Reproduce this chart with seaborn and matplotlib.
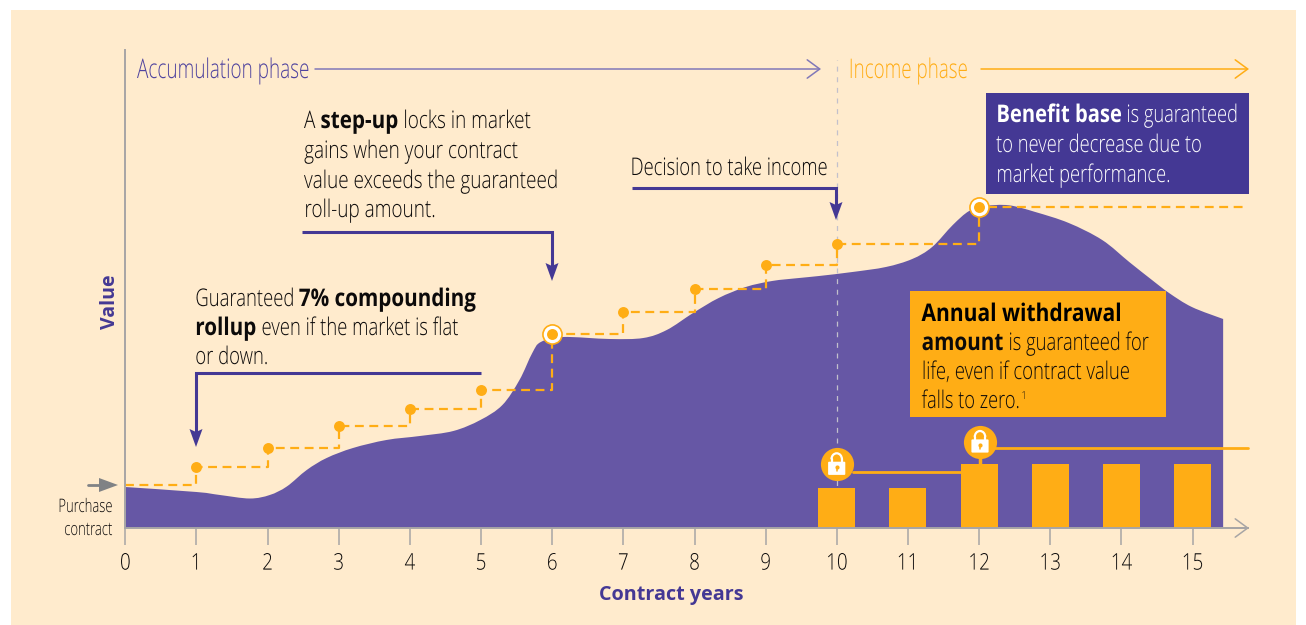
import matplotlib
matplotlib.use("Agg")
import matplotlib.pyplot as plt
from matplotlib.patches import Rectangle, Arc, FancyBboxPatch, PathPatch
from matplotlib.path import Path
from matplotlib.patheffects import AbstractPathEffect
from matplotlib.transforms import Affine2D
import seaborn as sns

# values, height = pixels above the baseline
curve_years = [0, 1, 1.33, 1.75, 2.03, 2.27, 2.55, 2.83, 3.2, 3.67, 4.14, 4.61, 4.99, 5.3, 5.54, 5.72, 5.84,
               6.15, 6.81, 7.28, 7.61, 7.98, 8.34, 8.72, 9.09, 9.47, 9.75, 10.22, 10.69, 11.06, 11.34, 11.63,
               11.86, 12.09, 12.42, 12.79, 13.26, 13.73, 14.11, 14.43, 14.67, 14.99, 15.43]
curve_value = [41, 36, 33, 29.5, 33, 41.5, 58, 70, 80, 88, 92, 97, 108, 123, 148, 175, 186,
               191, 189, 190, 198, 215, 230, 241, 247, 250, 252, 256, 261, 269, 281, 303,
               317, 322, 322.7, 316, 305, 288, 266, 248, 235, 221, 209]
step_years = [0, 1, 2, 3, 4, 5, 6, 7, 8, 9, 10, 12, 15.78]
step_value = [43, 61, 80.3, 102, 119, 138, 194.5, 216.3, 238.7, 262.7, 284, 320.7, 320.7]
dot_years = [1, 2, 3, 4, 5, 6, 7, 8, 9, 10, 12]
dot_value = [61, 80.3, 102, 119, 138, 194.5, 216.3, 238.7, 262.7, 284, 320.7]
stepup_years = [6, 12]
stepup_value = [194.5, 320.7]
bar_years = [10, 11, 12, 13, 14, 15]
bar_value = [40, 40, 64, 64, 64, 64]
tick_years = list(range(16))

CREAM = "#FFEBCD"
PURPLE = "#6657A5"
DARK = "#443894"
ORANGE = "#FFAD15"
GREY = "#A7A5A5"
INK = "#0C0A0A"

sns.set_theme(style="ticks")
plt.rcParams["font.family"] = ["Open Sans", "DejaVu Sans"]

W, H = 1306, 625


class Squeeze(AbstractPathEffect):
    # the original type is a condensed cut, so narrow the glyphs around a pivot
    def __init__(self, sx, pivot=0.0):
        super().__init__()
        self.sx = sx
        self.pivot = pivot

    def draw_path(self, renderer, gc, tpath, affine, rgbFace=None):
        box = tpath.get_extents(affine)
        px = box.x0 + box.width * self.pivot
        tr = affine + Affine2D().translate(-px, 0).scale(self.sx, 1).translate(px, 0)
        renderer.draw_path(gc, tpath, tr, rgbFace)


def smooth_area(xs, ys):
    # closed outline under the read points, bezier segments passing through each of them
    verts = [(xs[0], 0), (xs[0], ys[0])]
    codes = [Path.MOVETO, Path.LINETO]
    n = len(xs)
    for i in range(n - 1):
        a, b = max(i - 1, 0), min(i + 2, n - 1)
        verts += [(xs[i] + (xs[i + 1] - xs[a]) / 6, ys[i] + (ys[i + 1] - ys[a]) / 6),
                  (xs[i + 1] - (xs[b] - xs[i]) / 6, ys[i + 1] - (ys[b] - ys[i]) / 6),
                  (xs[i + 1], ys[i + 1])]
        codes += [Path.CURVE4] * 3
    verts += [(xs[-1], 0), (xs[0], 0)]
    codes += [Path.LINETO, Path.CLOSEPOLY]
    return Path(verts, codes)


fig = plt.figure(figsize=(W / 100, H / 100), dpi=100, facecolor="white")
fig.add_artist(Rectangle((11 / W, 0), 1285 / W, 615 / H, transform=fig.transFigure, color=CREAM, lw=0, zorder=-1))

ax = fig.add_axes([125.3 / W, (H - 528) / H, 1122.7 / W, 478 / H])
ax.patch.set_alpha(0)

ax.add_patch(PathPatch(smooth_area(curve_years, curve_value), color=PURPLE, lw=0, zorder=1))
ax.axvline(10, 0, 0.98, color="#C2C0CC", lw=0.9, ls=(0, (4, 4.5)), zorder=2)
sns.barplot(x=bar_years, y=bar_value, native_scale=True, width=0.52, color=ORANGE, saturation=1,
            linewidth=0, ax=ax, zorder=3)
sns.lineplot(x=step_years, y=step_value, color=ORANGE, lw=1.6, ls=(0, (4, 2.5)), drawstyle="steps-post",
             estimator=None, ax=ax, zorder=4)
sns.scatterplot(x=stepup_years, y=stepup_value, s=190, color="white", edgecolor=ORANGE, linewidth=1.2,
                ax=ax, zorder=5, clip_on=False)
sns.scatterplot(x=dot_years, y=dot_value, s=62, color=ORANGE, linewidth=0, ax=ax, zorder=6, clip_on=False)

ax.set_xlim(0, 1122.7 / 71.15)
ax.set_ylim(0, 478)
ax.set_xticks(tick_years)
ax.set_xticklabels([str(t) for t in tick_years], fontsize=16.5, color=INK, fontweight="light")
for lab in ax.get_xticklabels():
    lab.set_path_effects([Squeeze(0.82, 0.5)])
ax.set_yticks([])
ax.tick_params(axis="x", length=12, width=1.1, color=GREY, pad=5)
for s in ["top", "right"]:
    ax.spines[s].set_visible(False)
for s in ["left", "bottom"]:
    ax.spines[s].set_color(GREY)
    ax.spines[s].set_linewidth(1.4)
    ax.spines[s].set_zorder(7)
ax.set_xlabel("Contract years", fontweight="bold", fontsize=14.2, color=DARK)
ax.xaxis.set_label_coords(0.486, -0.119)
ax.set_ylabel("Value", fontweight="bold", fontsize=14, color=DARK)
ax.yaxis.set_label_coords(-0.005, 0.473)

# overlay in picture pixels for the call-outs
ov = fig.add_axes([0, 0, 1, 1], zorder=10)
ov.set_xlim(0, W)
ov.set_ylim(H, 0)
ov.axis("off")
rend = fig.canvas.get_renderer()


def rich(x, y, parts, size=17.5, color=INK, reg=0.78, bold_sx=0.85):
    # parts is a list of (text, bold), written one after the other on a baseline
    for txt, bold in parts:
        sx = bold_sx if bold else reg
        t = ov.text(x, y, txt, fontsize=size, color=color, va="baseline", zorder=20,
                    fontweight="bold" if bold else "light", path_effects=[Squeeze(sx)])
        x += t.get_window_extent(rend).width * sx + 5
    return x


def elbow(xs, ys, tipx, tipy):
    ov.plot(xs, ys, color=DARK, lw=2.2, solid_joinstyle="miter", solid_capstyle="butt", zorder=12)
    ov.fill([tipx - 6.5, tipx, tipx + 6.5, tipx], [tipy - 18, tipy, tipy - 18, tipy - 15], color=DARK, lw=0, zorder=12)


def open_arrow(x0, x1, y, color):
    ov.annotate("", xy=(x1, y), xytext=(x0, y),
                arrowprops=dict(arrowstyle="->,head_length=0.75,head_width=0.55", color=color, lw=1.1,
                                shrinkA=0, shrinkB=0))


# phase headers
ov.text(137, 78, "Accumulation phase", fontsize=19.5, color="#4F439E", fontweight="light",
        path_effects=[Squeeze(0.70)])
open_arrow(315, 821, 69, "#8178B8")
ov.text(848, 78, "Income phase", fontsize=19.5, color=ORANGE, fontweight="light", path_effects=[Squeeze(0.695)])
open_arrow(981, 1249, 69, ORANGE)
open_arrow(1190, 1249, 528, GREY)

# call-outs
rich(304, 128, [("A", False), ("step-up", True), ("locks in market", False)])
rich(304, 158, [("gains when your contract", False)])
rich(304, 188, [("value exceeds the guaranteed", False)])
rich(304, 217, [("roll-up amount.", False)])
elbow([302, 552, 552], [232, 232, 270], 552, 281)

rich(630, 175, [("Decision to take income", False)], reg=0.757)
elbow([632, 836, 836], [188, 188, 210], 836, 220)

rich(195, 306, [("Guaranteed", False), ("7% compounding", True)], reg=0.76)
rich(195, 335, [("rollup", True), ("even if the market is flat", False)], reg=0.76)
rich(195, 364, [("or down.", False)], reg=0.76)
elbow([481, 196, 196], [373, 373, 435], 196, 447)

ov.add_patch(Rectangle((986, 93), 263, 101, color=DARK, lw=0, zorder=15))
rich(996, 122, [("Benefit base", True), ("is guaranteed", False)], color="white", reg=0.75, bold_sx=0.83)
rich(996, 152, [("to never decrease due to", False)], color="white", reg=0.755)
rich(996, 182, [("market performance.", False)], color="white", reg=0.755)

ov.add_patch(Rectangle((910, 291), 256, 126, color=ORANGE, lw=0, zorder=15))
rich(921.5, 321, [("Annual withdrawal", True)], color="black", bold_sx=0.865)
rich(921.5, 350, [("amount", True), ("is guaranteed for", False)], reg=0.755)
rich(921.5, 379, [("life, even if contract value", False)], reg=0.76)
end = rich(921.5, 408, [("falls to zero.", False)], reg=0.75)
ov.text(end - 3, 399, "1", fontsize=8, color=INK, zorder=20, fontweight="light", path_effects=[Squeeze(0.8)])

# purchase marker
ov.plot([88, 100], [485, 485], color="#808285", lw=2)
ov.fill([99, 118, 99], [478, 485, 492], color="#808285", lw=0)
ov.text(113, 512, "Purchase", ha="right", fontsize=13.4, color=INK, fontweight="light",
        path_effects=[Squeeze(0.70, 1.0)])
ov.text(113, 535, "contract", ha="right", fontsize=13.4, color=INK, fontweight="light",
        path_effects=[Squeeze(0.70, 1.0)])

# withdrawal lines and padlocks
ov.plot([853, 961], [471.5, 471.5], color=ORANGE, lw=2, zorder=11)
ov.plot([995, 1248], [447.7, 447.7], color=ORANGE, lw=2, zorder=11)
ov.plot([980, 980], [455, 465], color=ORANGE, lw=2.5, zorder=11)
for cx, cy in [(836.7, 464.3), (980, 442)]:
    ov.scatter([cx], [cy], s=570, color=ORANGE, lw=0, zorder=12)
    ov.add_patch(FancyBboxPatch((cx - 8, cy - 2), 16, 12, boxstyle="round,pad=0.6,rounding_size=1",
                                color="white", lw=0, zorder=13))
    ov.add_patch(Arc((cx, cy - 5), 10.5, 12, theta1=180, theta2=360, color="white", lw=1.6, zorder=13))
    ov.plot([cx - 5.2, cx - 5.2], [cy - 5, cy - 1], color="white", lw=1.6, zorder=13)
    ov.plot([cx + 5.2, cx + 5.2], [cy - 5, cy - 1], color="white", lw=1.6, zorder=13)
    ov.scatter([cx], [cy + 3], s=9, color=ORANGE, lw=0, zorder=14)
    ov.plot([cx, cx], [cy + 3, cy + 7], color=ORANGE, lw=1.1, zorder=14)

fig.savefig("out.png", dpi=100)
